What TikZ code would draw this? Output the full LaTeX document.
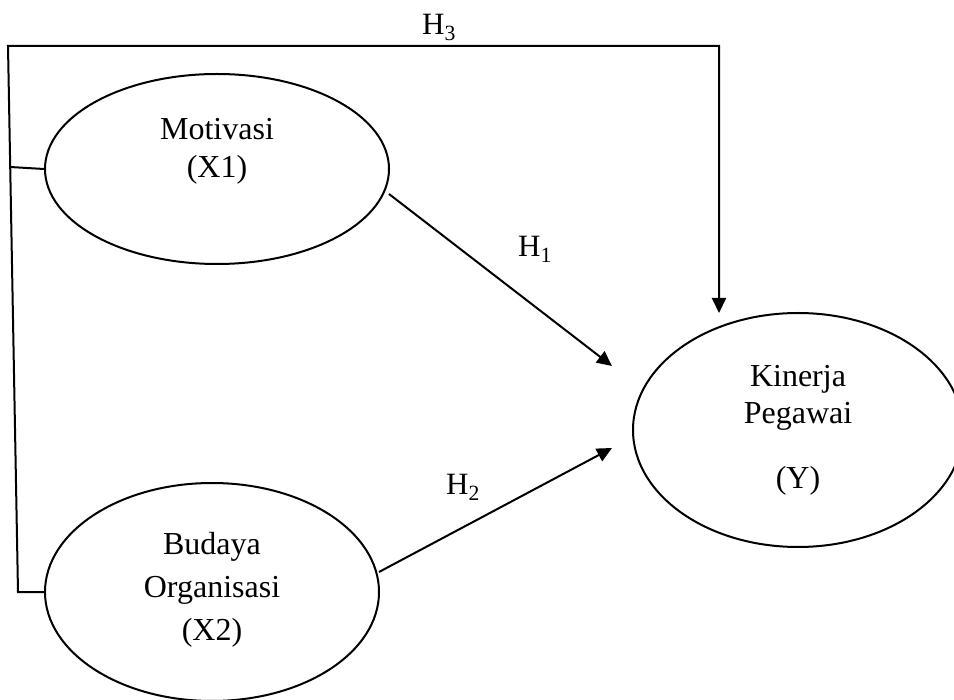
\documentclass[tikz,border=0pt]{standalone}
\usepackage{fontspec}
\setmainfont{Liberation Serif}
\usetikzlibrary{shapes.geometric,arrows.meta}
\begin{document}
\begin{tikzpicture}[x=1pt,y=-1pt,
  ell/.style={draw,ellipse,line width=2pt,inner sep=0pt},
  txt/.style={align=center,font=\fontsize{32}{38}\selectfont,inner sep=0pt},
  lbl/.style={font=\fontsize{31}{36}\selectfont,inner sep=0pt,anchor=base west},
  conn/.style={line width=2pt,line join=miter},
  arr/.style={conn,-{Triangle[length=15pt,width=14pt]}}]
\clip (0,0) rectangle (954,700);
% ellipses
\node[ell,minimum width=344pt,minimum height=190pt] (x1) at (217,169) {};
\node[ell,minimum width=334pt,minimum height=218pt] (x2) at (212,592) {};
\node[ell,minimum width=330pt,minimum height=234pt] (y) at (798,430) {};
% texts
\node[txt] (t1) at (217,151) {Motivasi\\(X1)};
\node[txt,font=\fontsize{32}{43}\selectfont] (t2) at (212,590) {Budaya\\Organisasi\\(X2)};
\node[txt,font=\fontsize{32}{37}\selectfont] (ty) at (798,430) {Kinerja\\Pegawai\\[28pt](Y)};
% coordinates
\coordinate (tl) at (8,46);
\coordinate (tr) at (719,46);
\coordinate (bl) at (18,592);
\coordinate (j1) at (10,167);
\coordinate (h3e) at (719,313);
\coordinate (h1s) at (389,194);
\coordinate (h1e) at (612,366);
\coordinate (h2s) at (379,572);
\coordinate (h2e) at (612,448);
% connectors
\draw[arr] (x2.west) -- (bl) -- (tl) -- (tr) -- (h3e);
\draw[conn] (j1) -- (x1.west);
\draw[arr] (h1s) -- (h1e);
\draw[arr] (h2s) -- (h2e);
% labels
\node[lbl] (l3) at (422,35) {H\textsubscript{3}};
\node[lbl] (l1) at (518,257) {H\textsubscript{1}};
\node[lbl] (l2) at (446,495) {H\textsubscript{2}};
\end{tikzpicture}
\end{document}
